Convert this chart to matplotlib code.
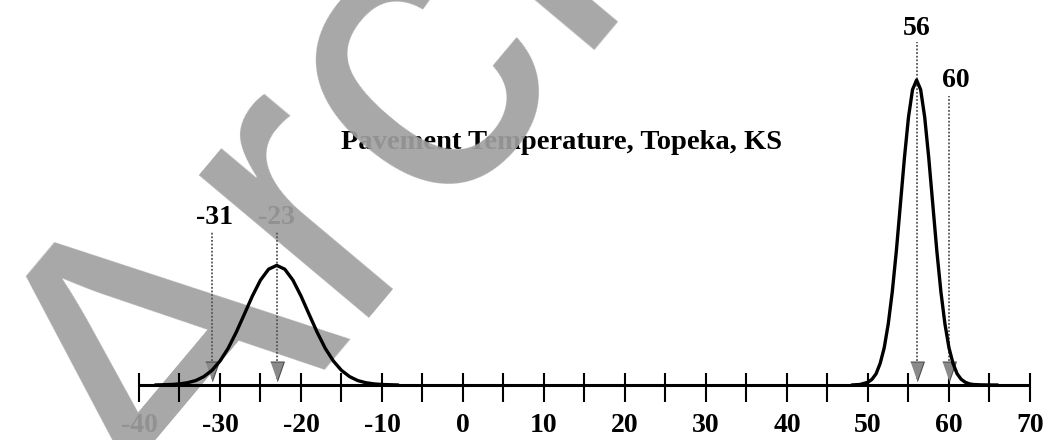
import matplotlib.pyplot as plt

# pavement temperature distributions (relative frequency)
low_temp = [-38, -37, -36, -35, -34, -33, -32, -31, -30, -29, -28, -27, -26, -25,
            -24, -23, -22, -21, -20, -19, -18, -17, -16, -15, -14, -13, -12, -11,
            -10, -9, -8]
low_freq = [0.0, 0.002, 0.004, 0.009, 0.019, 0.037, 0.07, 0.122, 0.2, 0.306, 0.44,
            0.591, 0.744, 0.877, 0.968, 1.0, 0.968, 0.877, 0.744, 0.591, 0.44,
            0.306, 0.2, 0.122, 0.07, 0.037, 0.019, 0.009, 0.004, 0.002, 0.0]

high_temp = [48, 49, 50, 50.5, 51, 51.5, 52, 52.5, 53, 53.5, 54, 54.5, 55, 55.5,
             56, 56.5, 57, 57.5, 58, 58.5, 59, 59.5, 60, 60.5, 61, 61.5, 62, 62.5,
             63, 64, 65, 66]
high_freq = [0.0, 0.004, 0.023, 0.048, 0.094, 0.18, 0.31, 0.51, 0.78, 1.12, 1.51,
             1.9, 2.24, 2.47, 2.55, 2.47, 2.24, 1.9, 1.51, 1.12, 0.78, 0.51, 0.31,
             0.18, 0.094, 0.048, 0.023, 0.01, 0.004, 0.001, 0.0, 0.0]

marked = [-31, -23, 56, 60]
arrow_top = [1.28, 1.28, 2.87, 2.42]
label_y = [1.40, 1.40, 2.98, 2.55]
label_x = [-30.7, -23.0, 56.0, 60.8]

tick_pos = list(range(-40, 75, 5))
tick_labels = list(range(-40, 80, 10))

title = 'Pavement Temperature, Topeka, KS'

serif = 'Liberation Serif'

fig = plt.figure(figsize=(10.47, 4.4), dpi=100)
ax = fig.add_axes([0, 0, 1, 1])
ax.set_xlim(-57.16, 72.1)
ax.set_ylim(-0.46, 3.219)
ax.axis('off')

# axis line and ticks
ax.hlines(0, -40, 70, color='black', lw=2.2, zorder=6)
ax.vlines(tick_pos, -0.14, 0.10, color='black', lw=1.5, zorder=6)
for t in tick_labels:
    ax.text(t, -0.335, str(t), ha='center', va='center', fontsize=20,
            fontweight='bold', family=serif, zorder=3)

# curves
ax.plot(low_temp, low_freq, color='black', lw=2.4, zorder=7,
        solid_capstyle='round')
ax.plot(high_temp, high_freq, color='black', lw=2.4, zorder=7,
        solid_capstyle='round')

# arrows and labels
head = [(-0.35, 1), (0.35, 1), (0, 0)]
for x, top, lx, ly in zip(marked, arrow_top, label_x, label_y):
    ax.vlines(x, 0.05, top, color='#555555', lw=1.3, linestyle=(0, (1, 1)),
              zorder=6)
    ax.plot(x, 0.03, marker=head, ms=28, color='#8a8a8a', mec='#4d4d4d',
            mew=0.8, zorder=6)
    ax.text(lx, ly, str(x), ha='center', va='center', fontsize=20,
            fontweight='bold', family=serif, color='black', zorder=3)

ax.text(12.2, 2.03, title, ha='center', va='center', fontsize=20.5,
        fontweight='bold', family=serif, zorder=3)

# scanned watermark
ax.text(171 / 1047, 1 - 553 / 440, 'Archived', transform=ax.transAxes,
        rotation=50, rotation_mode='anchor', ha='left', va='baseline',
        fontsize=302, family='Liberation Sans', color='#a0a0a0',
        alpha=0.92, zorder=5, clip_on=False)

fig.savefig('out.png', dpi=100)
